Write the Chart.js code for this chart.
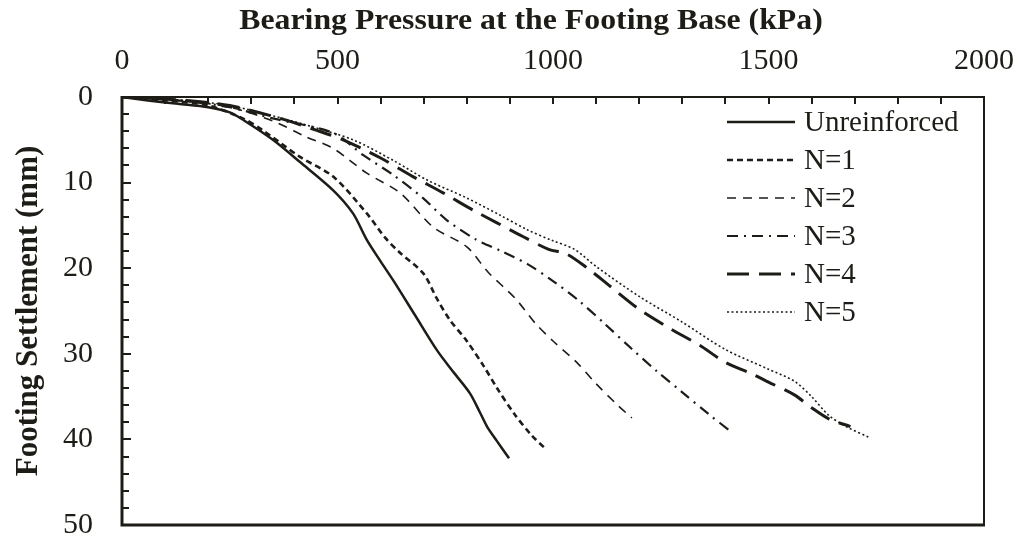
<!DOCTYPE html>
<html>
<head>
<meta charset="utf-8">
<script src="https://cdn.jsdelivr.net/npm/chart.js@4.4.1/dist/chart.umd.min.js"></script>
<style>
  html, body { margin: 0; padding: 0; background: #fff; }
  #wrap { width: 1019px; height: 539px; }
</style>
</head>
<body>
<div id="wrap"><canvas id="settlementChart" width="1019" height="539"></canvas></div>
<script>
// Data (pressure in kPa, settlement in mm)
const seriesNames = ['Unreinforced', 'N=1', 'N=2', 'N=3', 'N=4', 'N=5'];

const unreinforcedX = [0, 60, 130, 200, 250, 285, 350, 413, 490, 536, 568, 600, 629, 680, 731, 770, 807, 830, 847, 870, 898];
const unreinforcedY = [0, 0.4, 0.8, 1.2, 1.8, 2.8, 5.0, 7.6, 10.9, 13.6, 16.7, 19.2, 21.4, 25.5, 29.6, 32.2, 34.6, 36.8, 38.5, 40.2, 42.2];

const n1X = [0, 100, 200, 280, 327, 413, 490, 568, 610, 645, 699, 730, 760, 800, 840, 870, 910, 950, 985];
const n1Y = [0, 0.4, 1.0, 2.5, 3.9, 7.0, 9.3, 13.6, 16.4, 18.2, 20.6, 23.5, 26.0, 28.5, 31.5, 34.0, 37.0, 39.5, 41.2];

const n2X = [0, 150, 250, 350, 429, 490, 568, 645, 722, 800, 850, 912, 960, 1000, 1055, 1100, 1150, 1183];
const n2Y = [0, 0.5, 1.2, 2.8, 4.7, 6.0, 8.9, 11.2, 15.2, 17.5, 20.5, 23.5, 26.5, 28.5, 31.0, 33.5, 36.0, 37.5];

const n3X = [0, 150, 250, 350, 490, 560, 629, 696, 754, 823, 880, 940, 1000, 1060, 1120, 1180, 1240, 1300, 1360, 1413];
const n3Y = [0, 0.5, 1.2, 2.5, 4.2, 6.8, 9.1, 11.7, 14.4, 16.7, 18.0, 19.5, 21.5, 23.8, 26.5, 29.3, 32.0, 34.5, 37.0, 39.1];

const n4X = [0, 150, 250, 367, 452, 513, 599, 675, 745, 814, 870, 930, 990, 1030, 1080, 1130, 1200, 1270, 1340, 1400, 1460, 1500, 1560, 1600, 1640, 1690];
const n4Y = [0, 0.4, 1.0, 2.5, 3.9, 5.0, 7.1, 9.3, 11.2, 13.2, 14.7, 16.3, 17.8, 18.3, 20.0, 22.0, 24.8, 27.0, 29.0, 31.0, 32.3, 33.3, 34.8, 36.3, 37.6, 38.5];

const n5X = [0, 150, 250, 350, 429, 536, 629, 708, 800, 877, 940, 1000, 1050, 1100, 1200, 1300, 1400, 1500, 1560, 1600, 1640, 1680, 1735];
const n5Y = [0, 0.4, 1.0, 2.2, 3.3, 5.0, 7.4, 9.7, 11.8, 13.8, 15.5, 16.8, 17.8, 19.8, 23.3, 26.3, 29.5, 31.8, 33.2, 35.0, 37.2, 38.5, 39.8];

const xTickLabels = [0, 500, 1000, 1500, 2000];
const yTickLabels = [0, 10, 20, 30, 40, 50];

const xTitle = 'Bearing Pressure at the Footing Base (kPa)';
const yTitle = 'Footing Settlement (mm)';

const INK = '#1e1c17';
const SERIF = "'Liberation Serif', 'Times New Roman', serif";

function toPoints(xs, ys) {
  return xs.map(function(x, i) { return { x: x, y: ys[i] }; });
}

const lineStyles = [
  { width: 2.5, dash: [] },
  { width: 2.6, dash: [6, 4] },
  { width: 1.6, dash: [9, 7] },
  { width: 2.2, dash: [11, 6, 2, 6] },
  { width: 3, dash: [22, 10] },
  { width: 1.6, dash: [2, 2.5] }
];

const seriesData = [
  toPoints(unreinforcedX, unreinforcedY),
  toPoints(n1X, n1Y),
  toPoints(n2X, n2Y),
  toPoints(n3X, n3Y),
  toPoints(n4X, n4Y),
  toPoints(n5X, n5Y)
];

const datasets = seriesNames.map(function(name, i) {
  return {
    label: name,
    data: seriesData[i],
    borderColor: INK,
    borderWidth: lineStyles[i].width,
    borderDash: lineStyles[i].dash,
    pointRadius: 0,
    tension: 0.3,
    fill: false
  };
});

// frame, inward ticks, top title and the in-plot legend
const framePlugin = {
  id: 'frame',
  afterDraw: function(chart) {
    const ctx = chart.ctx;
    const area = chart.chartArea;
    const xs = chart.scales.x;
    const ys = chart.scales.y;
    ctx.save();
    ctx.strokeStyle = INK;
    ctx.setLineDash([]);

    // top + right border
    ctx.lineWidth = 2;
    ctx.beginPath();
    ctx.moveTo(area.left, area.top);
    ctx.lineTo(area.right, area.top);
    ctx.lineTo(area.right, area.bottom);
    ctx.stroke();
    // left + bottom border, a bit heavier
    ctx.lineWidth = 3;
    ctx.beginPath();
    ctx.moveTo(area.left, area.top - 1);
    ctx.lineTo(area.left, area.bottom);
    ctx.lineTo(area.right + 1, area.bottom);
    ctx.stroke();

    ctx.lineWidth = 2;
    for (let v = 100; v < 2000; v += 100) {
      const px = Math.round(xs.getPixelForValue(v));
      ctx.beginPath();
      ctx.moveTo(px, area.top);
      ctx.lineTo(px, area.top + 7);
      ctx.stroke();
    }
    for (let v = 2; v < 50; v += 2) {
      const py = Math.round(ys.getPixelForValue(v));
      const len = v % 10 === 0 ? 9 : 7;
      ctx.beginPath();
      ctx.moveTo(area.left, py);
      ctx.lineTo(area.left + len, py);
      ctx.stroke();
    }

    // x axis title, a little left of centre and slightly wide as in the figure
    ctx.fillStyle = INK;
    ctx.save();
    ctx.translate(531, 21);
    ctx.scale(1.06, 1);
    ctx.font = 'bold 30px ' + SERIF;
    ctx.textAlign = 'center';
    ctx.textBaseline = 'middle';
    ctx.fillText(xTitle, 0, 0);
    ctx.restore();

    // legend
    ctx.font = '29px ' + SERIF;
    ctx.textAlign = 'left';
    ctx.textBaseline = 'middle';
    chart.data.datasets.forEach(function(ds, i) {
      const y = 122 + i * 38;
      ctx.lineWidth = ds.borderWidth;
      ctx.setLineDash(ds.borderDash);
      ctx.beginPath();
      ctx.moveTo(727, y);
      ctx.lineTo(795, y);
      ctx.stroke();
      ctx.fillText(ds.label, 804, y + 1);
    });
    ctx.restore();
  }
};

const ctx = document.getElementById('settlementChart').getContext('2d');
new Chart(ctx, {
  type: 'line',
  data: { datasets: datasets },
  plugins: [framePlugin],
  options: {
    responsive: false,
    animation: false,
    layout: { padding: { left: 0, top: 0, right: 35, bottom: 14 } },
    plugins: {
      legend: { display: false },
      tooltip: { enabled: false }
    },
    scales: {
      x: {
        type: 'linear',
        position: 'top',
        min: 0,
        max: 2000,
        afterFit: function(scale) {
          scale.height = 97;
          scale.paddingLeft = 0;
          scale.paddingRight = 0;
        },
        afterBuildTicks: function(scale) {
          scale.ticks = xTickLabels.map(function(v) { return { value: v }; });
        },
        ticks: {
          font: { family: SERIF, size: 30 },
          color: INK,
          padding: 18,
          maxRotation: 0,
          callback: function(value) { return String(value); }
        },
        grid: { display: false, drawTicks: false },
        border: { display: false },
        title: { display: false }
      },
      y: {
        type: 'linear',
        reverse: true,
        min: 0,
        max: 50,
        afterFit: function(scale) {
          scale.width = 122;
          scale.paddingTop = 0;
          scale.paddingBottom = 0;
        },
        afterBuildTicks: function(scale) {
          scale.ticks = yTickLabels.map(function(v) { return { value: v }; });
        },
        ticks: {
          font: { family: SERIF, size: 30 },
          color: INK,
          padding: 29,
          callback: function(value) { return String(value); }
        },
        grid: { display: false, drawTicks: false },
        border: { display: false },
        title: {
          display: true,
          text: yTitle,
          font: { family: SERIF, size: 31, weight: 'bold' },
          color: INK,
          padding: { top: 10, bottom: 0 }
        }
      }
    }
  }
});
</script>
</body>
</html>
